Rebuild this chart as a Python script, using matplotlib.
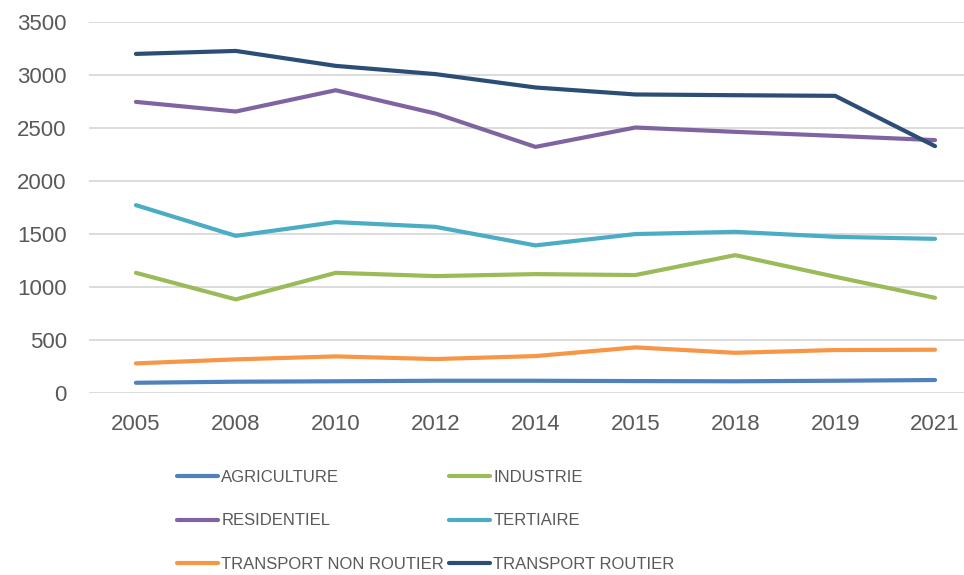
import matplotlib.pyplot as plt

years = ["2005", "2008", "2010", "2012", "2014", "2015", "2018", "2019", "2021"]

agriculture = [94, 104, 108, 113, 113, 110, 108, 113, 120]
industrie = [1132, 881, 1132, 1101, 1120, 1111, 1299, 1095, 896]
residentiel = [2746, 2655, 2856, 2636, 2321, 2504, 2463, 2425, 2385]
tertiaire = [1771, 1481, 1611, 1566, 1391, 1498, 1519, 1472, 1453]
transport_non_routier = [277, 315, 343, 318, 346, 428, 377, 403, 406]
transport_routier = [3199, 3227, 3086, 3008, 2882, 2816, 2809, 2803, 2328]

series = [
    ("AGRICULTURE", agriculture, "#4F81BD"),
    ("INDUSTRIE", industrie, "#9BBB59"),
    ("RESIDENTIEL", residentiel, "#8064A2"),
    ("TERTIAIRE", tertiaire, "#4BACC6"),
    ("TRANSPORT NON ROUTIER", transport_non_routier, "#F79646"),
    ("TRANSPORT ROUTIER", transport_routier, "#2C4D75"),
]

plt.rcParams["font.family"] = ["Liberation Sans", "DejaVu Sans"]

fig = plt.figure(figsize=(9.64, 5.75), dpi=100)
ax = fig.add_axes([0.0923, 0.317, 0.9077, 0.6447])

x = list(range(len(years)))
lines = {}
for name, values, color in series:
    (ln,) = ax.plot(x, values, color=color, lw=3.0, label=name,
                    solid_capstyle="round", solid_joinstyle="round")
    lines[name] = ln

ax.set_xlim(-0.47, 8.29)
ax.set_ylim(0, 3500)
ax.set_yticks(range(0, 3501, 500))
ax.set_xticks(x)
ax.set_xticklabels(years)
ax.grid(True, axis="y", color="#d9d9d9", lw=1.3)
ax.set_axisbelow(True)
for s in ax.spines.values():
    s.set_visible(False)
ax.tick_params(axis="both", length=0, labelsize=16, labelcolor="#595959")
ax.tick_params(axis="y", pad=16)
ax.tick_params(axis="x", pad=15)

# ordre colonne par colonne pour obtenir la disposition en lignes
order = ["AGRICULTURE", "RESIDENTIEL", "TRANSPORT NON ROUTIER",
         "INDUSTRIE", "TERTIAIRE", "TRANSPORT ROUTIER"]
leg = fig.legend([lines[n] for n in order], order, ncol=2,
                 loc="upper left", bbox_to_anchor=(0.1836, 0.183),
                 frameon=False, fontsize=12, handlelength=2.46,
                 handletextpad=0.2, columnspacing=0.3, labelspacing=1.72,
                 borderpad=0, borderaxespad=0)
for t in leg.get_texts():
    t.set_color("#595959")

fig.savefig("out.png", dpi=100)
